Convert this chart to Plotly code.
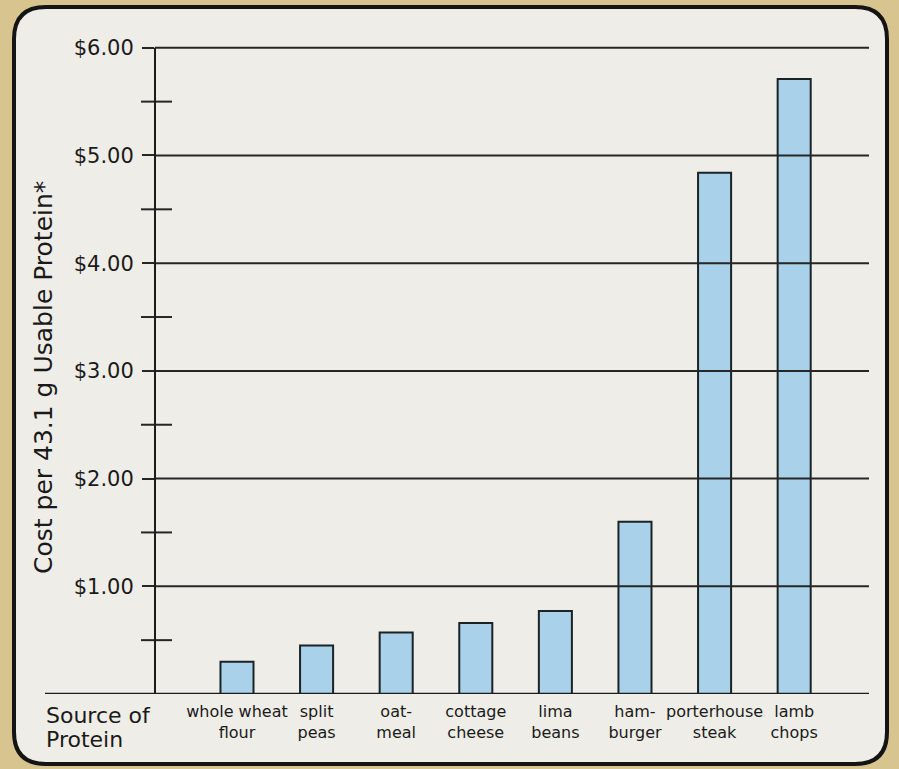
import plotly.graph_objects as go

# ---- data ----
categories = ["whole wheat<br>flour", "split<br>peas", "oat-<br>meal", "cottage<br>cheese",
              "lima<br>beans", "ham-<br>burger", "porterhouse<br>steak", "lamb<br>chops"]
cost = [0.30, 0.45, 0.57, 0.66, 0.77, 1.60, 4.84, 5.71]
major_ticks = [1, 2, 3, 4, 5, 6]
major_labels = ["$1.00", "$2.00", "$3.00", "$4.00", "$5.00", "$6.00"]
minor_ticks = [0.5, 1.5, 2.5, 3.5, 4.5, 5.5]
y_title = "Cost per 43.1 g Usable Protein*"
x_title_lines = ["Source of", "Protein"]

# ---- layout constants ----
W, H = 899, 769
ML, MR, MT, MB = 155, 30, 37, 75
PW, PH = W - ML - MR, H - MT - MB
FONT = "DejaVu Sans"
INK = "#1a1a1a"

def px(xp):
    return (xp - ML) / PW

def py(yp):
    return (H - MB - yp) / PH

fig = go.Figure()
fig.add_trace(go.Bar(
    x=categories, y=cost,
    marker=dict(color="#a9d2ea", line=dict(color="#1b2327", width=2)),
    width=0.415,
))

shapes = []
# rounded panel
x0, x1, y0, y1, r = 14, 887, 7, 764, 32
pts = [("M", [(x0 + r, y0)]), ("L", [(x1 - r, y0)]), ("Q", [(x1, y0), (x1, y0 + r)]),
       ("L", [(x1, y1 - r)]), ("Q", [(x1, y1), (x1 - r, y1)]), ("L", [(x0 + r, y1)]),
       ("Q", [(x0, y1), (x0, y1 - r)]), ("L", [(x0, y0 + r)]), ("Q", [(x0, y0), (x0 + r, y0)])]
path = ""
for cmd, ps in pts:
    path += cmd + " " + " ".join(f"{px(a):.5f},{py(b):.5f}" for a, b in ps) + " "
path += "Z"
shapes.append(dict(type="path", path=path, xref="paper", yref="paper", layer="below",
                   fillcolor="#eeede7", line=dict(color="#141414", width=4)))

# gridlines above bars
for v in major_ticks:
    shapes.append(dict(type="line", xref="paper", yref="y", x0=0, x1=1, y0=v, y1=v,
                       layer="above", line=dict(color="#262626", width=2)))
# minor ticks crossing axis
for v in minor_ticks:
    shapes.append(dict(type="line", xref="paper", yref="y", x0=-14 / PW, x1=17 / PW, y0=v, y1=v,
                       layer="above", line=dict(color="#262626", width=2)))
# y axis line
shapes.append(dict(type="line", xref="paper", yref="y", x0=0, x1=0, y0=0, y1=major_ticks[-1],
                   layer="above", line=dict(color="#1c1c1c", width=2)))
# baseline
shapes.append(dict(type="line", xref="paper", yref="y", x0=px(45), x1=1, y0=0, y1=0,
                   layer="above", line=dict(color="#1c1c1c", width=2.5)))

annotations = [
    dict(text=y_title, xref="paper", yref="paper", x=px(43), y=py(378), textangle=-90,
         showarrow=False, xanchor="center", yanchor="middle",
         font=dict(family=FONT, size=25, color=INK)),
    dict(text=x_title_lines[0], xref="paper", yref="paper", x=px(44), y=py(716),
         showarrow=False, xanchor="left", yanchor="middle",
         font=dict(family=FONT, size=22, color=INK)),
    dict(text=x_title_lines[1], xref="paper", yref="paper", x=px(44), y=py(740),
         showarrow=False, xanchor="left", yanchor="middle",
         font=dict(family=FONT, size=22, color=INK)),
]

fig.update_layout(
    width=W, height=H,
    margin=dict(l=ML, r=MR, t=MT, b=MB, pad=0),
    paper_bgcolor="#d7c48f",
    plot_bgcolor="rgba(0,0,0,0)",
    showlegend=False,
    shapes=shapes,
    annotations=annotations,
    xaxis=dict(type="category", range=[-1.03, 7.94], showgrid=False, showline=False,
               zeroline=False, ticks="", tickfont=dict(family=FONT, size=16, color=INK),
               ticklabelstandoff=6, fixedrange=True),
    yaxis=dict(range=[0, 6.1], tickvals=major_ticks, ticktext=major_labels,
               showgrid=False, showline=False, zeroline=False,
               ticks="outside", ticklen=12, tickwidth=2, tickcolor="#262626",
               tickfont=dict(family=FONT, size=21, color=INK), ticklabelstandoff=4,
               fixedrange=True),
)

fig.write_html("out.html")
